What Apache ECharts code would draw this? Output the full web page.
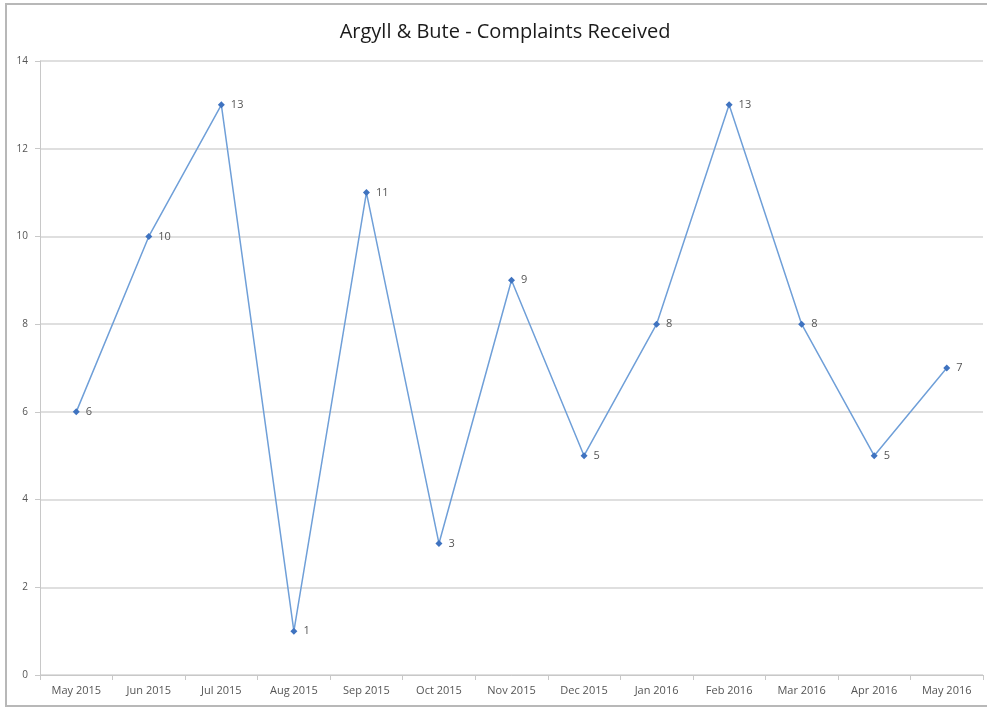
<!DOCTYPE html>
<html>
<head>
<meta charset="utf-8">
<script src="https://cdn.jsdelivr.net/npm/echarts@6/dist/echarts.min.js"></script>
<style>
  html, body { margin: 0; padding: 0; background: #fff; }
  #chart { width: 987px; height: 709px; }
</style>
</head>
<body>
<div id="chart"></div>
<script>
var months = ['May 2015', 'Jun 2015', 'Jul 2015', 'Aug 2015', 'Sep 2015', 'Oct 2015', 'Nov 2015',
  'Dec 2015', 'Jan 2016', 'Feb 2016', 'Mar 2016', 'Apr 2016', 'May 2016']
var complaints = [6, 10, 13, 1, 11, 3, 9, 5, 8, 13, 8, 5, 7]
var yMin = 0
var yMax = 14
var yStep = 2

var myChart = echarts.init(document.getElementById('chart'))

var option = {
  animation: false,
  title: {
    text: 'Argyll & Bute - Complaints Received',
    left: 500,
    textAlign: 'center',
    top: 17,
    textStyle: {
      fontFamily: 'Open Sans',
      fontWeight: 'normal',
      fontSize: 20,
      color: '#1a1a1a'
    }
  },
  graphic: [{
    type: 'rect',
    shape: { x: 6, y: 4, width: 990, height: 702 },
    style: { fill: 'none', stroke: '#b8b8b8', lineWidth: 2 },
    silent: true
  }],
  grid: {
    left: 40,
    right: 4,
    top: 61,
    bottom: 34
  },
  xAxis: {
    type: 'category',
    data: months,
    boundaryGap: true,
    axisLine: { lineStyle: { color: '#c8c8c8', width: 1 } },
    axisTick: { show: true, alignWithLabel: false, length: 5, lineStyle: { color: '#c8c8c8' } },
    axisLabel: {
      color: '#555',
      fontFamily: 'Open Sans',
      fontSize: 11,
      margin: 10,
      interval: 0
    }
  },
  yAxis: {
    type: 'value',
    min: yMin,
    max: yMax,
    interval: yStep,
    axisLine: { show: true, lineStyle: { color: '#c8c8c8' } },
    axisTick: { show: true, length: 5, lineStyle: { color: '#c8c8c8' } },
    axisLabel: {
      color: '#555',
      fontFamily: 'Open Sans',
      fontSize: 10,
      margin: 12
    },
    splitLine: { show: true, lineStyle: { color: '#d4d4d4', width: 1.5 } }
  },
  series: [{
    type: 'line',
    data: complaints,
    symbol: 'diamond',
    symbolSize: 7,
    lineStyle: { color: '#6f9fd8', width: 1.5 },
    itemStyle: { color: '#3f73c0' },
    label: {
      show: true,
      position: 'right',
      distance: 6,
      color: '#555',
      fontFamily: 'Open Sans',
      fontSize: 11
    }
  }]
}

myChart.setOption(option)
</script>
</body>
</html>
